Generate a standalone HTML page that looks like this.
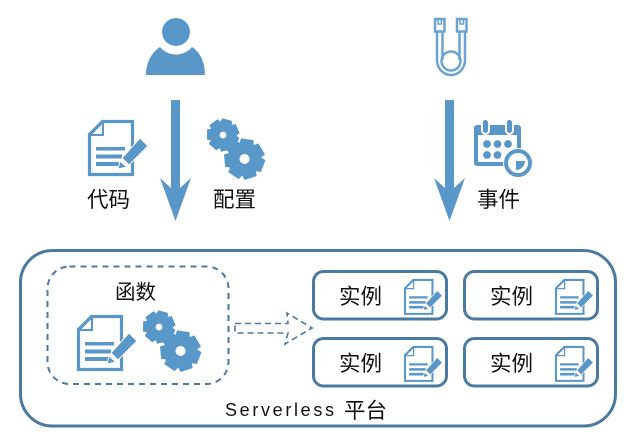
<!DOCTYPE html>
<html><head><meta charset="utf-8"><style>
html,body{margin:0;padding:0;background:#fff;width:631px;height:438px;overflow:hidden}
svg{display:block}
text{font-family:"Liberation Sans","Noto Sans CJK SC",sans-serif;fill:#111;font-size:21.5px}
</style></head><body>
<svg width="631" height="438" viewBox="0 0 631 438" xmlns="http://www.w3.org/2000/svg">
<defs>
<g id="doc">
<path d="M1.500 14.500 L14.500 1.500 H44.500 V54.500 H1.500 Z" fill="#fff" stroke="#5a97c9" stroke-width="3.200"/>
<path d="M2 15 H15 V2 Z" fill="#fff" stroke="#5a97c9" stroke-width="2"/>
<path d="M8 27 H37 V30.500 H8 Z M8 34.500 H34 V38.500 H8 Z M8 42 H31 V46 H8 Z" fill="#5a97c9"/>
<path d="M34 38 L52 18 L60 26 L41 45 Z M32 41 L39 47 L30 49 Z" fill="#5a97c9" stroke="#fff" stroke-width="1"/>
</g>
<g id="gear" fill="#5a97c9">
<circle r="12"/>
<g id="t"><path d="M-5 -16 L5 -16 L6.500 -9 L-6.500 -9 Z"/></g>
<use href="#t" transform="rotate(51.400)"/><use href="#t" transform="rotate(102.900)"/><use href="#t" transform="rotate(154.300)"/><use href="#t" transform="rotate(205.700)"/><use href="#t" transform="rotate(257.100)"/><use href="#t" transform="rotate(308.600)"/>
</g>
<g id="gears">
<use href="#gear" transform="translate(0,0) rotate(15)"/>
<circle cx="0" cy="0" r="3.400" fill="#fff"/>
<use href="#gear" transform="translate(21.500,24) rotate(8) scale(1.250)"/>
<circle cx="21.500" cy="24" r="5" fill="#fff"/>
</g>
<g id="inst">
<rect x="1.500" y="1.500" width="133" height="47.500" rx="10" fill="#fff" stroke="#4a7aa2" stroke-width="3"/>
<text x="27" y="34">实例</text>
<use href="#doc" transform="translate(92,9) scale(0.64)"/>
</g>
</defs>

<!-- person -->
<circle cx="176" cy="32" r="14" fill="#5a97c9"/>
<path d="M146 75 C146 62 152 52 160 47 C168 57 184 57 192 47 C200 52 205 62 205 75 Z" fill="#5a97c9"/>

<!-- arrows -->
<path d="M171 100 H180 V188 L191 178 L175.500 221 L160 178 L171 188 Z" fill="#5a97c9"/>
<path d="M445 100 H454 V188 L465 178 L449.500 221 L434 178 L445 188 Z" fill="#5a97c9"/>

<!-- icons top -->
<use href="#doc" transform="translate(88,120)"/>
<use href="#gears" transform="translate(223,135)"/>
<text x="87" y="207">代码</text>
<text x="213" y="207">配置</text>

<!-- cable -->
<g fill="none" stroke="#6ba3d1" stroke-width="2.500">
<rect x="435" y="19" width="9.500" height="12.500"/>
<rect x="457" y="19" width="9.500" height="12.500"/>
<path d="M438 19 V24 H441.500 V19 M460 19 V24 H463.500 V19" stroke-width="1.500"/>
<path d="M437 32 V60 A14 15 0 0 0 465 60 V32"/>
<path d="M442.500 32 V60 M459.500 32 V60"/>
<circle cx="451" cy="61" r="9.500"/>
</g>

<!-- calendar -->
<rect x="474" y="125" width="47" height="41" rx="3" fill="#5a97c9"/>
<rect x="478" y="135" width="39" height="27" fill="#fff"/>
<g fill="#5a97c9">
<circle cx="487" cy="144" r="3.900"/><circle cx="497.500" cy="144" r="3.900"/><circle cx="508" cy="144" r="3.900"/>
<circle cx="487" cy="155" r="3.900"/><circle cx="497.500" cy="155" r="3.900"/>
</g>
<rect x="482" y="119" width="7" height="15" rx="3.500" fill="#5a97c9" stroke="#fff" stroke-width="2"/>
<rect x="506" y="119" width="7" height="15" rx="3.500" fill="#5a97c9" stroke="#fff" stroke-width="2"/>
<circle cx="518" cy="163" r="15" fill="#fff"/>
<circle cx="518" cy="163" r="12" fill="#fff" stroke="#5a97c9" stroke-width="4"/>
<path d="M516 161 H525 A9 9 0 0 1 516 170 Z" fill="#5a97c9"/>
<text x="477" y="207">事件</text>

<!-- platform -->
<rect x="20.500" y="250.500" width="595" height="175.500" rx="32" fill="#fff" stroke="#4a7aa2" stroke-width="3"/>
<rect x="47.500" y="266.500" width="181" height="117.500" rx="22" fill="none" stroke="#4a7aa2" stroke-width="2" stroke-dasharray="6 5"/>
<text x="115" y="299" style="font-size:20.500px">函数</text>
<use href="#doc" transform="translate(77,315)"/>
<use href="#gears" transform="translate(159,327)"/>

<!-- dashed arrow -->
<path d="M235 323.500 H288 L287 313 L312 328 L285 344 L288 333 H235 Z" fill="none" stroke="#4a7aa2" stroke-width="1.600" stroke-dasharray="6 4"/>

<use href="#inst" transform="translate(312,270)"/>
<use href="#inst" transform="translate(463,270)"/>
<use href="#inst" transform="translate(312,337)"/>
<use href="#inst" transform="translate(463,337)"/>

<text x="225" y="416" textLength="109" lengthAdjust="spacing" style="font-size:18px">Serverless</text>
<text x="344" y="418">平台</text>
</svg>
</body></html>
